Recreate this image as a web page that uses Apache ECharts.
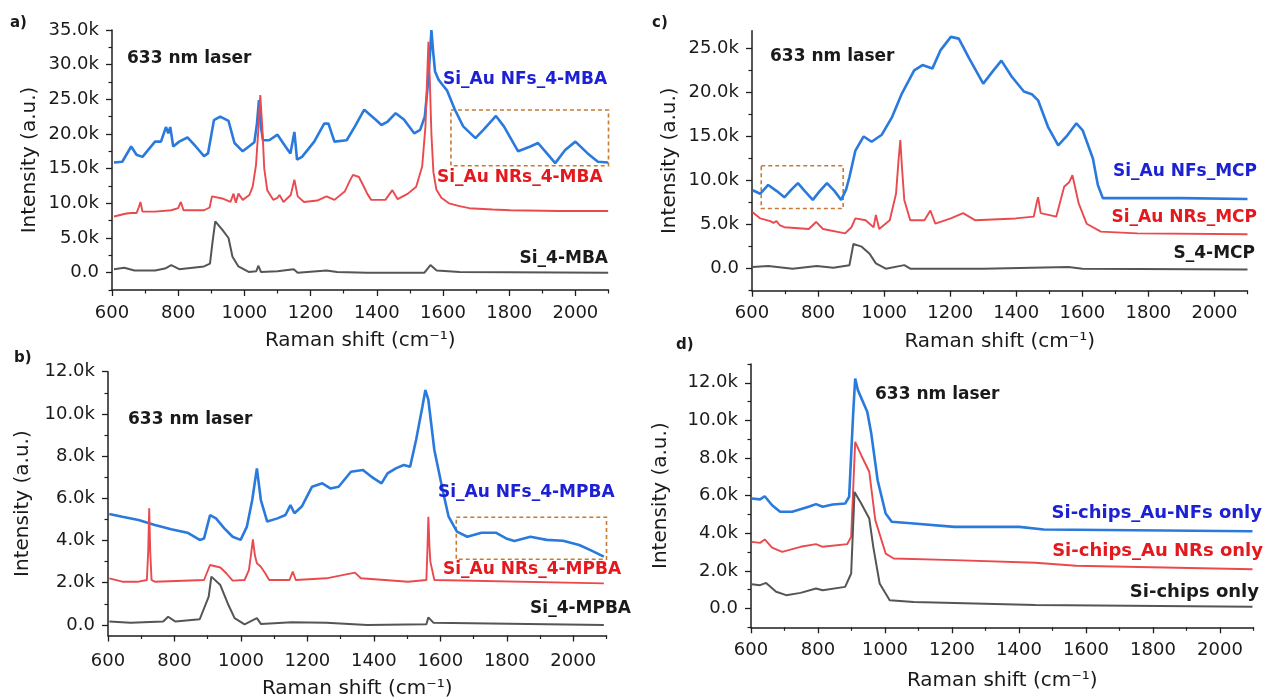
<!DOCTYPE html>
<html><head><meta charset="utf-8">
<script src="https://cdn.jsdelivr.net/npm/echarts@6/dist/echarts.min.js"></script>
<style>html,body{margin:0;padding:0;background:#fff}#c{width:1266px;height:700px}</style>
</head><body><div id="c"></div>
<script>
// ---------- tick values ----------
const xMajor = [600,800,1000,1200,1400,1600,1800,2000];
const xMinor = [700,900,1100,1300,1500,1700,1900,2100];
const aYMajor = [0,5000,10000,15000,20000,25000,30000,35000];
const aYMinor = [-2500,2500,7500,12500,17500,22500,27500,32500];
const cYMajor = [0,5000,10000,15000,20000,25000];
const cYMinor = [-2500,2500,7500,12500,17500,22500];
const bYMajor = [0,2000,4000,6000,8000,10000,12000];
const bYMinor = [1000,3000,5000,7000,9000,11000];
const dYMajor = [0,2000,4000,6000,8000,10000,12000];
const dYMinor = [-1000,1000,3000,5000,7000,9000,11000,13000];

// ---------- panel a (Raman shift, intensity) ----------
const aNFs = [[606,15900],[631,16000],[658,18200],[674,17000],[692,16700],[730,18900],[748,18900],[763,21000],[770,20100],[776,21000],[785,18200],[803,18900],[828,19500],[853,18200],[878,16800],[890,17200],[908,22000],[927,22500],[952,21900],[970,18700],[995,17500],[1030,18800],[1038,21500],[1044,24900],[1050,21000],[1056,19100],[1075,19100],[1100,19900],[1124,18200],[1139,17200],[1151,20300],[1159,16300],[1174,16700],[1211,18900],[1241,21500],[1254,21500],[1272,18900],[1309,19100],[1334,21100],[1362,23500],[1396,22100],[1414,21300],[1433,21800],[1457,23000],[1482,22100],[1513,20100],[1531,20600],[1545,22500],[1553,26500],[1560,31000],[1565,35000],[1570,32000],[1576,29000],[1587,27800],[1600,27000],[1612,26300],[1636,23500],[1661,21100],[1698,19400],[1722,20600],[1760,22600],[1784,21100],[1827,17500],[1864,18200],[1887,18700],[1914,17200],[1939,15800],[1969,17700],[2000,18900],[2037,17200],[2068,16000],[2099,15900]];
const aNRs = [[606,8100],[640,8500],[656,8600],[674,8600],[680,9300],[686,10200],[692,8800],[730,8800],[779,9000],[800,9300],[808,10200],[816,9000],[878,9000],[895,9400],[902,11000],[933,10700],[958,10200],[967,11400],[974,10100],[982,11400],[995,10500],[1015,11200],[1025,12400],[1035,15500],[1042,20500],[1048,25600],[1054,21000],[1060,15000],[1069,11900],[1087,10500],[1100,10800],[1106,11200],[1118,10200],[1140,11200],[1151,13400],[1161,11000],[1180,10200],[1220,10400],[1248,11000],[1272,10500],[1303,11700],[1318,13200],[1328,14100],[1346,13800],[1360,12500],[1371,11400],[1383,10500],[1426,10500],[1447,11900],[1463,10600],[1494,11400],[1519,12400],[1537,15300],[1547,21100],[1552,28000],[1556,33300],[1560,28000],[1565,20000],[1571,14500],[1580,12000],[1595,10800],[1618,10000],[1650,9600],[1679,9300],[1750,9100],[1803,9000],[1950,8900],[2099,8900]];
const aSi = [[606,500],[637,700],[668,300],[730,300],[760,600],[779,1100],[803,500],[878,900],[896,1300],[904,4500],[912,7400],[933,6200],[952,5000],[964,2300],[982,900],[1013,100],[1036,200],[1042,1000],[1050,100],[1100,200],[1149,500],[1161,0],[1248,300],[1280,100],[1371,0],[1544,0],[1562,1100],[1581,300],[1650,100],[2099,0]];
const aBox = [1624, 2117, 15430, 23460];

// ---------- panel c ----------
const cNFs = [[602,8900],[625,8500],[649,9500],[675,8800],[698,8100],[720,9000],[739,9700],[760,8800],[784,7800],[805,8800],[827,9700],[850,8800],[870,7800],[885,9000],[895,10400],[913,13400],[938,15000],[962,14400],[993,15200],[1024,17200],[1054,19900],[1091,22500],[1116,23100],[1146,22700],[1171,24800],[1202,26300],[1226,26100],[1257,23900],[1300,21000],[1331,22500],[1355,23600],[1386,21800],[1423,20100],[1447,19800],[1466,19100],[1496,16100],[1527,14000],[1552,15000],[1582,16500],[1601,15700],[1632,12500],[1647,9500],[1662,8000],[1767,8000],[1900,8000],[2100,7900]];
const cNRs = [[602,6400],[625,5700],[655,5400],[665,5200],[674,5400],[685,4900],[698,4700],[772,4500],[794,5300],[815,4500],[882,4000],[901,4700],[913,5700],[944,5500],[968,4700],[975,6100],[985,4500],[1017,5500],[1036,8500],[1044,12500],[1049,14600],[1054,11500],[1061,7800],[1079,5500],[1122,5500],[1140,6600],[1155,5100],[1202,5700],[1239,6300],[1275,5500],[1398,5700],[1453,5900],[1462,7500],[1466,8100],[1474,6300],[1521,5900],[1545,9300],[1560,9800],[1570,10600],[1589,7400],[1613,5100],[1656,4200],[1767,4000],[2100,3900]];
const cSi = [[602,200],[649,300],[723,0],[796,300],[846,100],[895,400],[907,2800],[932,2500],[956,1700],[975,600],[1005,0],[1061,400],[1079,0],[1300,0],[1558,200],[1600,0],[2100,-100]];
const cBox = [628, 876, 6820, 11670];

// ---------- panel b ----------
const bNFs = [[604,5260],[643,5130],[692,4970],[741,4740],[790,4530],[839,4370],[876,4030],[889,4100],[907,5200],[925,5050],[950,4580],[975,4180],[999,4030],[1018,4660],[1034,5920],[1048,7420],[1060,5920],[1079,4900],[1110,5050],[1134,5210],[1149,5680],[1161,5290],[1183,5610],[1214,6550],[1245,6710],[1269,6470],[1294,6550],[1331,7260],[1367,7340],[1392,7030],[1423,6710],[1441,7180],[1466,7420],[1490,7580],[1509,7500],[1527,8760],[1546,10340],[1555,11130],[1564,10660],[1582,8290],[1607,6390],[1625,5130],[1650,4420],[1681,4180],[1724,4370],[1767,4370],[1798,4100],[1823,3980],[1871,4180],[1920,4030],[1969,3990],[2018,3790],[2055,3520],[2092,3240]];
const bNRs = [[604,2210],[643,2050],[692,2050],[717,2130],[721,3500],[724,5530],[727,3500],[731,2130],[741,2050],[889,2130],[907,2840],[938,2720],[956,2450],[975,2100],[1011,2130],[1024,2600],[1030,3300],[1036,4060],[1042,3300],[1048,2920],[1060,2760],[1073,2450],[1085,2130],[1146,2130],[1156,2530],[1165,2130],[1257,2210],[1343,2480],[1361,2210],[1503,2050],[1558,2130],[1561,3500],[1564,5130],[1567,3800],[1570,3000],[1582,2130],[2092,1970]];
const bSi = [[604,160],[668,110],[766,160],[781,390],[803,160],[876,270],[903,1340],[911,2290],[938,1890],[960,1030],[981,320],[1011,30],[1048,320],[1060,50],[1153,130],[1257,110],[1380,0],[1558,30],[1564,360],[1579,110],[2092,0]];
const bBox = [1648, 2123, 3110, 5100];

// ---------- panel d ----------
const dNFs = [[602,5850],[627,5800],[641,5970],[663,5490],[687,5140],[723,5140],[772,5410],[794,5550],[814,5410],[844,5530],[881,5580],[893,5940],[905,10370],[911,12230],[919,11610],[947,10460],[959,9300],[978,6820],[1002,5050],[1020,4610],[1086,4520],[1207,4340],[1401,4340],[1474,4200],[2097,4110]];
const dNRs = [[602,3540],[627,3490],[641,3670],[663,3240],[693,3010],[748,3280],[794,3420],[814,3280],[887,3420],[899,3810],[911,8860],[929,8150],[953,7270],[971,4700],[1002,2920],[1026,2660],[1207,2570],[1449,2430],[1570,2270],[2097,2090]];
const dSi = [[602,1290],[627,1240],[645,1360],[675,890],[705,710],[748,830],[794,1060],[814,970],[881,1150],[899,1860],[909,6200],[929,5580],[953,4790],[965,3280],[984,1330],[1014,440],[1086,350],[1449,180],[2097,90]];

// ---------- styling ----------
const FONT = '"DejaVu Sans", sans-serif';
const AX = '#1e1e1e';
const BLUE = '#2a7ade', RED = '#ea4a4e', GRAY = '#555555';
const BLUE_T = '#1c22d4', RED_T = '#e4191e', BLACK_T = '#1a1a1a';
const BOX = '#c77b33';

const panels = [
  {grid:{left:112, top:30, width:496.5, height:260}, ymin:-2500, ymax:35000, yMaj:aYMajor, yMin:aYMinor, mX:14, nameGapX:41, nameGapY:72,
   series:[[aNFs,BLUE,2.6,aBox],[aNRs,RED,1.9],[aSi,GRAY,2.0]]},
  {grid:{left:752, top:30.7, width:495.5, height:260}, ymin:-2500, ymax:27000, yMaj:cYMajor, yMin:cYMinor, mX:14, nameGapX:41, nameGapY:72,
   series:[[cNFs,BLUE,2.6,cBox],[cNRs,RED,1.9],[cSi,GRAY,2.0]]},
  {grid:{left:108, top:371.7, width:498.5, height:263.8}, ymin:-500, ymax:12000, yMaj:bYMajor, yMin:bYMinor, mX:17, nameGapX:43, nameGapY:75,
   series:[[bNFs,BLUE,2.6,bBox],[bNRs,RED,1.9],[bSi,GRAY,2.0]]},
  {grid:{left:751, top:364, width:502.5, height:263.3}, ymin:-1000, ymax:13000, yMaj:dYMajor, yMin:dYMinor, mX:14, nameGapX:43, nameGapY:80,
   series:[[dNFs,BLUE,2.6],[dNRs,RED,1.9],[dSi,GRAY,2.0]]}
];

const fmtY = v => v === 0 ? '0.0' : (v/1000).toFixed(1) + 'k';
const fmtX = v => String(v);

const grid = [], xAxis = [], yAxis = [], series = [];
panels.forEach((p, i) => {
  grid.push(Object.assign({}, p.grid));
  xAxis.push({type:'value', gridIndex:i, min:600, max:2100, interval:200, position:'bottom',
    name:'Raman shift (cm⁻¹)', nameLocation:'middle', nameGap:p.nameGapX,
    nameTextStyle:{fontFamily:FONT, fontSize:20, color:BLACK_T},
    axisLine:{show:true, onZero:false, lineStyle:{color:AX, width:1.5}},
    axisTick:{show:true, length:6, customValues:xMajor, lineStyle:{color:AX, width:1.3}},
    axisLabel:{customValues:xMajor, formatter:fmtX, margin:p.mX, fontFamily:FONT, fontSize:18, color:BLACK_T},
    splitLine:{show:false}});
  yAxis.push({type:'value', gridIndex:i, min:p.ymin, max:p.ymax, position:'left',
    name:'Intensity (a.u.)', nameLocation:'middle', nameGap:p.nameGapY, nameRotate:90,
    nameTextStyle:{fontFamily:FONT, fontSize:20, color:BLACK_T},
    axisLine:{show:true, onZero:false, lineStyle:{color:AX, width:1.5}},
    axisTick:{show:true, length:6, customValues:p.yMaj, lineStyle:{color:AX, width:1.3}},
    axisLabel:{customValues:p.yMaj, formatter:fmtY, margin:13, fontFamily:FONT, fontSize:18, color:BLACK_T},
    splitLine:{show:false}});
});
panels.forEach((p, i) => {
  // minor tick axes
  xAxis.push({type:'value', gridIndex:i, min:600, max:2100, position:'bottom',
    axisLine:{show:false, onZero:false}, axisLabel:{show:false}, splitLine:{show:false},
    axisTick:{show:true, length:3.5, customValues:xMinor, lineStyle:{color:AX, width:1.2}}});
  yAxis.push({type:'value', gridIndex:i, min:p.ymin, max:p.ymax, position:'left',
    axisLine:{show:false, onZero:false}, axisLabel:{show:false}, splitLine:{show:false},
    axisTick:{show:true, length:3.5, customValues:p.yMin, lineStyle:{color:AX, width:1.2}}});
});
panels.forEach((p, i) => {
  p.series.forEach(([data, color, w, box]) => {
    const s = {type:'line', xAxisIndex:i, yAxisIndex:i, data:data, symbol:'none', showSymbol:false,
      lineStyle:{color:color, width:w}, itemStyle:{color:color}, animation:false, silent:true, clip:false, z:2};
    if (box) {
      s.markArea = {silent:true, itemStyle:{color:'rgba(0,0,0,0)', borderColor:BOX, borderWidth:1.6, borderType:[4,3]},
        data:[[{xAxis:box[0], yAxis:box[3]}, {xAxis:box[1], yAxis:box[2]}]]};
    }
    series.push(s);
  });
});

const txt = (text, x, y, size, color, align, bold=true) => ({type:'text', x:x, y:y, silent:true, z:10,
  style:{text:text, fill:color, font:(bold?'bold ':'') + size + 'px ' + FONT, align:align||'left', verticalAlign:'middle'}});

const graphic = [
  txt('a)', 10, 23, 15, BLACK_T),
  txt('c)', 652, 23, 15, BLACK_T),
  txt('b)', 14, 358, 15, BLACK_T),
  txt('d)', 676, 345, 15, BLACK_T),
  txt('633 nm laser', 127, 59, 17, BLACK_T),
  txt('633 nm laser', 770, 57, 17, BLACK_T),
  txt('633 nm laser', 128, 420, 17, BLACK_T),
  txt('633 nm laser', 875, 395, 17, BLACK_T),
  txt('Si_Au NFs_4-MBA', 443, 80, 17, BLUE_T),
  txt('Si_Au NRs_4-MBA', 437, 178, 17, RED_T),
  txt('Si_4-MBA', 608, 259, 17, BLACK_T, 'right'),
  txt('Si_Au NFs_MCP', 1257, 172, 17, BLUE_T, 'right'),
  txt('Si_Au NRs_MCP', 1257, 218, 17, RED_T, 'right'),
  txt('S_4-MCP', 1255, 254, 17, BLACK_T, 'right'),
  txt('Si_Au NFs_4-MPBA', 438, 493, 17, BLUE_T),
  txt('Si_Au NRs_4-MPBA', 443, 570, 17, RED_T),
  txt('Si_4-MPBA', 631, 609, 17, BLACK_T, 'right'),
  txt('Si-chips_Au-NFs only', 1262, 513, 18, BLUE_T, 'right'),
  txt('Si-chips_Au NRs only', 1263, 551, 18, RED_T, 'right'),
  txt('Si-chips only', 1259, 592, 18, BLACK_T, 'right')
];

const chart = echarts.init(document.getElementById('c'), null, {renderer:'canvas'});
chart.setOption({backgroundColor:'#ffffff', animation:false, grid:grid, xAxis:xAxis, yAxis:yAxis, series:series, graphic:graphic});
</script>
</body></html>
